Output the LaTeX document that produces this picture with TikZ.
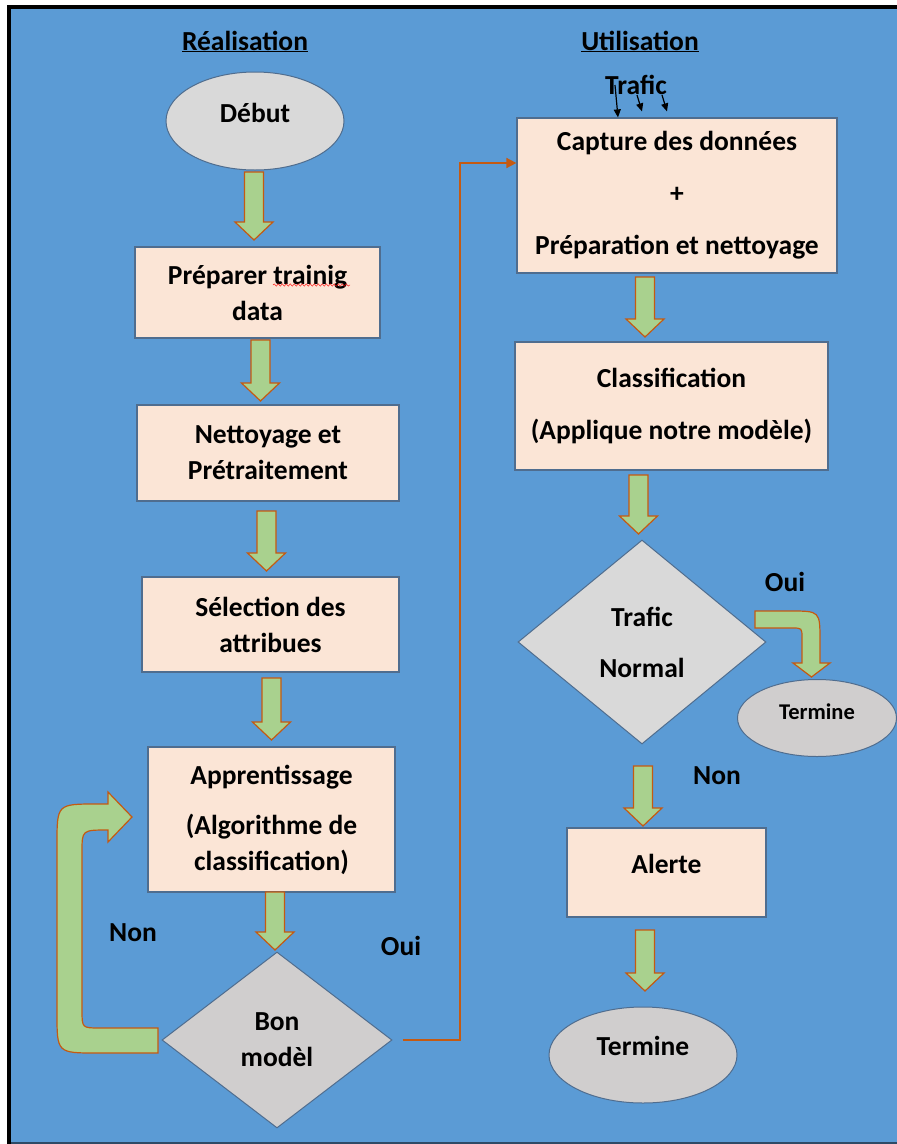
\documentclass[tikz,border=0pt]{standalone}
\usepackage{fontspec}
\setmainfont{Carlito}
\usetikzlibrary{arrows.meta,shapes.geometric,decorations.pathmorphing}
\definecolor{bgc}{HTML}{5B9BD5}
\definecolor{boxc}{HTML}{FBE5D6}
\definecolor{edgec}{HTML}{4F6D8F}
\definecolor{greyc}{HTML}{D9D9D9}
\definecolor{greytc}{HTML}{D0CECE}
\definecolor{greenc}{HTML}{A9D18E}
\definecolor{orc}{HTML}{C55A11}
\definecolor{botc}{HTML}{2E4A66}

% green block arrow pointing down: x centre, top, tip
\newcommand{\greendown}[3]{%
  \filldraw[blockarr] ({#1-9.5},#2) -- ({#1+9.5},#2) -- ({#1+9.5},{#3-18}) -- ({#1+19},{#3-18})
    -- (#1,#3) -- ({#1-19},{#3-18}) -- ({#1-9.5},{#3-18}) -- cycle;}

\begin{document}
\begin{tikzpicture}[x=1pt,y=-1pt,
      txt/.style={font=\bfseries\fontsize{27.5}{36}\selectfont,align=center},
      box/.style={txt,draw=edgec,fill=boxc,line width=1.2pt,inner sep=0pt},
      oval/.style={txt,ellipse,draw=edgec,line width=1pt,inner sep=0pt},
      choice/.style={txt,diamond,draw=edgec,line width=1pt,inner sep=0pt},
      blockarr/.style={fill=greenc,draw=orc,line width=1.2pt,line join=miter},
      >=Stealth]
    \useasboundingbox (0,0) rectangle (897,1144);
    % page frame
    \fill[white] (0,0) rectangle (897,1144);
    \fill[bgc] (11,9) rectangle (897,1142);
    \fill[black] (7,5) rectangle (897,9);
    \fill[black] (7,5) rectangle (11,1144);
    \fill[botc] (11,1142) rectangle (897,1144);

    \node[txt,anchor=base] (real) at (245,50) {\underline{Réalisation}};
    \node[txt,anchor=base] (util) at (640,50) {\underline{Utilisation}};

    % left column: building the model
    \node[oval,fill=greyc,minimum width=178pt,minimum height=98pt] (deb) at (255,121) {\raisebox{16pt}{Début}};
    \greendown{254}{172}{240}
    \node[box,minimum width=245pt,minimum height=91pt] (prep) at (257.5,292.5) {Préparer trainig\\data};
    \draw[red,decorate,decoration={snake,amplitude=1.2pt,segment length=4pt}] (273,285) -- (350,285);
    \greendown{260.5}{340}{401}
    \node[box,minimum width=262pt,minimum height=96pt] (nett) at (268,453) {Nettoyage et\\Prétraitement};
    \greendown{266.5}{511}{571}
    \node[box,minimum width=257pt,minimum height=95pt] (sel) at (270.5,624.5) {Sélection des\\attribues};
    \greendown{271.5}{678}{740}
    \node[box,minimum width=247pt,minimum height=145pt] (app) at (271.5,819.5) {Apprentissage\\[14pt](Algorithme de\\classification)};
    \greendown{275}{892}{950}
    \node[choice,fill=greytc,minimum width=230pt,minimum height=176pt] (bon) at (277,1040) {Bon\\modèl};

    % back to training when the model is not good
    \filldraw[blockarr] (158,1053) -- (97,1053) .. controls (57,1053) .. (57,1013) -- (57,844)
      .. controls (57,804) .. (97,804) -- (108,804) -- (108,792) -- (132,817) -- (108,842) -- (108,830)
      .. controls (82,830) .. (82,852) -- (82,1010) .. controls (82,1028) .. (100,1028) -- (158,1028) -- cycle;
    \node[txt] (non1) at (133,933) {Non};
    \node[txt] (oui1) at (401,946) {Oui};

    % right column: using the model
    \node[txt,anchor=base] (traf) at (636,94) {Trafic};
    \node[box,minimum width=320pt,minimum height=155pt] (cap) at (677,195.5) {Capture des données\\[16pt]+\\[16pt]Préparation et nettoyage};
    \foreach \sx/\sy/\ex/\ey in {-21/9/-59/0, 1/-1/-35/6, 26/-1/-10/6}
      \draw[line width=1.2pt,-{Triangle[length=8pt,width=7pt]}] ([shift={(\sx pt,\sy pt)}]traf.base) -- ([shift={(\ex pt,\ey pt)}]cap.north);
    \draw[orc,line width=1.6pt,-{Triangle[length=10pt,width=10pt]}] ([xshift=10pt]bon.east) -- ++(57.5,0) |- ([yshift=32.5pt]cap.west);
    \greendown{645}{277}{337}
    \node[box,minimum width=313pt,minimum height=128pt] (cls) at (671.5,406) {\raisebox{7pt}{\begin{tabular}{@{}c@{}}Classification\\[16pt](Applique notre modèle)\end{tabular}}};
    \greendown{638.5}{475}{534}
    \node[choice,fill=greyc,minimum width=248pt,minimum height=204pt] (tn) at (642,642) {Trafic\\[15pt]Normal};

    \node[txt] (oui2) at (785,582) {Oui};
    \filldraw[blockarr] (755,611) -- (790,611) .. controls (820,611) .. (820,641) -- (820,663) -- (830,663)
      -- (811.5,677) -- (793,663) -- (802,663) -- (802,638) .. controls (802,628) .. (792,628) -- (755,628) -- cycle;
    \node[oval,fill=greytc,minimum width=159pt,minimum height=77pt,font=\bfseries\fontsize{22.5}{27}\selectfont] (fin1) at (817,718) {\raisebox{12pt}{Termine}};

    \node[txt] (non2) at (717,776) {Non};
    \greendown{643}{766}{826}
    \node[box,minimum width=199pt,minimum height=89pt] (alr) at (666.5,872.5) {\raisebox{18pt}{Alerte}};
    \greendown{645}{930}{991}
    \node[oval,fill=greytc,minimum width=188pt,minimum height=96pt] (fin2) at (643,1055) {\raisebox{18pt}{Termine}};
  \end{tikzpicture}
\end{document}
